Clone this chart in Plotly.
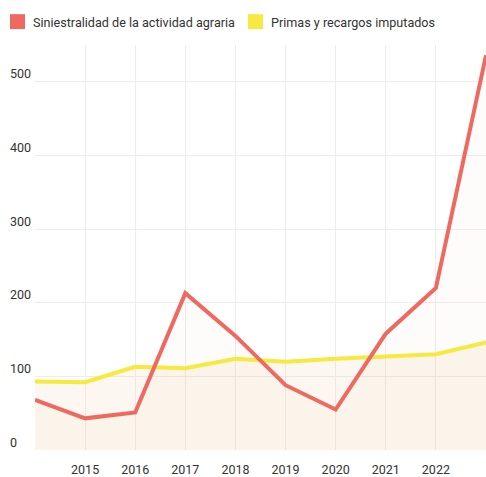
import plotly.graph_objects as go

# Data
years = [2014, 2015, 2016, 2017, 2018, 2019, 2020, 2021, 2022, 2023]
siniestralidad = [68, 43, 51, 213, 155, 88, 55, 158, 220, 536]
primas = [93, 92, 113, 111, 124, 120, 124, 127, 130, 146]
x_ticks = [2015, 2016, 2017, 2018, 2019, 2020, 2021, 2022]
x_tick_labels = ["2015", "2016", "2017", "2018", "2019", "2020", "2021", "2022"]
y_ticks = [0, 100, 200, 300, 400, 500]
series_names = ["Siniestralidad de la actividad agraria", "Primas y recargos imputados"]

RED = "#ee6a60"
YELLOW = "#f6e93f"
TEXT = "#333333"
GRID = "#f1ecea"
FONT = "Roboto"

W, H = 486, 477
L, R, T, B = 35, 0, 45, 25

fig = go.Figure()

# area fills under each series
fig.add_trace(go.Scatter(x=years, y=primas, mode="none", fill="tozeroy",
                         fillcolor="rgba(240,212,170,0.18)", showlegend=False, hoverinfo="skip"))
fig.add_trace(go.Scatter(x=years, y=siniestralidad, mode="none", fill="tozeroy",
                         fillcolor="rgba(238,160,120,0.035)", showlegend=False, hoverinfo="skip"))

# lines
fig.add_trace(go.Scatter(x=years, y=primas, mode="lines", name=series_names[1],
                         line=dict(color=YELLOW, width=4), showlegend=False))
fig.add_trace(go.Scatter(x=years, y=siniestralidad, mode="lines", name=series_names[0],
                         line=dict(color=RED, width=4), showlegend=False))

pw = W - L - R
ph = H - T - B


def px_x(p):
    return (p - L) / pw


def px_y(p):
    return (H - B - p) / ph


shapes = []
annotations = []

# legend drawn as swatches + labels
legend_items = [(10, RED, series_names[0]), (248, YELLOW, series_names[1])]
for x0, col, name in legend_items:
    shapes.append(dict(type="rect", xref="paper", yref="paper",
                       x0=px_x(x0), x1=px_x(x0 + 15), y0=px_y(29), y1=px_y(14),
                       fillcolor=col, line=dict(width=0)))
    annotations.append(dict(text=name, xref="paper", yref="paper",
                            x=px_x(x0 + 21), y=px_y(22), xanchor="left", yanchor="middle",
                            showarrow=False, font=dict(family=FONT, size=12.6, color=TEXT)))

# y tick labels sit above their gridlines, left-aligned
for v in y_ticks:
    annotations.append(dict(text=str(v), xref="paper", yref="y", x=px_x(8), y=v,
                            xanchor="left", yanchor="middle", yshift=8, showarrow=False,
                            font=dict(family=FONT, size=12.5, color=TEXT)))

fig.update_layout(
    width=W, height=H,
    margin=dict(l=L, r=R, t=T, b=B),
    paper_bgcolor="white", plot_bgcolor="white",
    font=dict(family=FONT, color=TEXT),
    shapes=shapes, annotations=annotations,
    showlegend=False,
    xaxis=dict(range=[2014, 2023], tickvals=x_ticks, ticktext=x_tick_labels,
               showgrid=True, gridcolor=GRID, gridwidth=1, zeroline=False,
               showline=False, ticks="outside", ticklen=8, tickcolor="rgba(0,0,0,0)",
               tickfont=dict(family=FONT, size=12.5, color=TEXT), fixedrange=True),
    yaxis=dict(range=[0, 550], tickvals=y_ticks, showticklabels=False,
               showgrid=True, gridcolor=GRID, gridwidth=1, zeroline=False,
               showline=False, fixedrange=True),
)

fig.write_html("out.html", config={"displayModeBar": False})
